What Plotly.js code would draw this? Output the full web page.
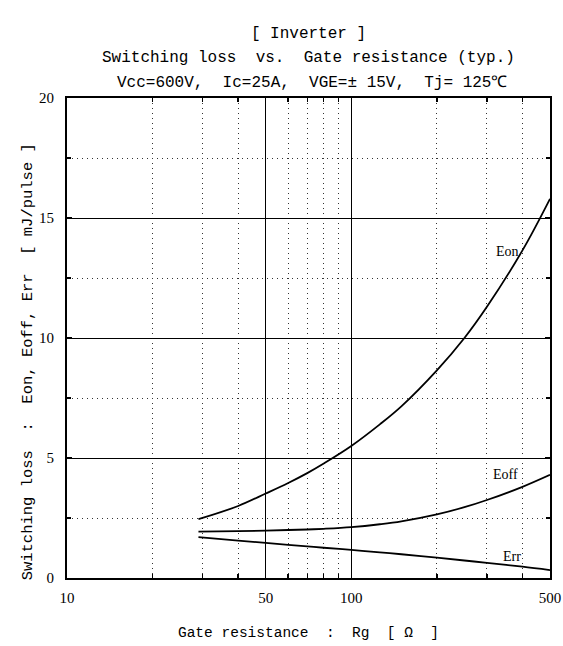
<!DOCTYPE html>
<html>
<head>
<meta charset="utf-8">
<script src="https://cdn.plot.ly/plotly-3.0.1.min.js"></script>
<style>html,body{margin:0;padding:0;background:#fff;}#chart{width:563px;height:646px;}</style>
</head>
<body>
<div id="chart"></div>
<script>
// Gate resistance Rg [ohm]
const rg   = [29, 40, 50, 60, 70, 80, 100, 126, 150, 200, 250, 300, 400, 500];
// Switching losses [mJ/pulse]
const eon  = [2.45, 3.0, 3.52, 3.96, 4.37, 4.77, 5.5, 6.4, 7.15, 8.65, 10.0, 11.3, 13.65, 15.8];
const eoff = [1.93, 1.95, 1.97, 2.0, 2.02, 2.05, 2.12, 2.24, 2.36, 2.65, 2.95, 3.25, 3.8, 4.3];
const err  = [1.7, 1.56, 1.46, 1.38, 1.32, 1.26, 1.17, 1.07, 0.99, 0.85, 0.73, 0.63, 0.47, 0.33];

const seriesNames = ['Eon', 'Eoff', 'Err'];
const labelRg = [354, 348, 369];
const labelE  = [13.6, 4.3, 0.88];

const xTickVals = [10, 50, 100, 500];
const xTickText = ['10', '50', '100', '500'];
const xMinorVals = [20, 30, 40, 60, 70, 80, 90, 200, 300, 400];
const yTickVals = [0, 5, 10, 15, 20];
const yMinorVals = [2.5, 7.5, 12.5, 17.5];

const titleLines = [
  '[ Inverter ]',
  'Switching loss  vs.  Gate resistance (typ.)',
  'Vcc=600V,  Ic=25A,  VGE=± 15V,  Tj= 125℃'
];
const xTitle = 'Gate resistance  :  Rg  [ Ω  ]';
const yTitle = 'Switching loss  :  Eon, Eoff, Err  [ mJ/pulse ]';

const lineStyle = {color: '#000', width: 1.8, shape: 'spline', smoothing: 1};
const traces = [eon, eoff, err].map((ys, i) => ({
  x: rg, y: ys, type: 'scatter', mode: 'lines', name: seriesNames[i],
  line: lineStyle, hoverinfo: 'skip'
}));

const mono = 'Liberation Mono, DejaVu Sans Mono, monospace';
const serif = 'Liberation Serif, DejaVu Serif, serif';

const annotations = seriesNames.map((n, i) => ({
  x: Math.log10(labelRg[i]), y: labelE[i], xref: 'x', yref: 'y', text: n,
  showarrow: false, font: {family: serif, size: 14, color: '#000'},
  xanchor: 'center', yanchor: 'middle'
}));
annotations.push({
  x: 0.5, y: 1.083, xref: 'paper', yref: 'paper', text: titleLines[1],
  showarrow: false, font: {family: mono, size: 16, color: '#000'},
  xanchor: 'center', yanchor: 'middle'
});
annotations.push({
  x: 0.508, y: 1.031, xref: 'paper', yref: 'paper', text: titleLines[2],
  showarrow: false, font: {family: mono, size: 16, color: '#000'},
  xanchor: 'center', yanchor: 'middle'
});
annotations.push({
  x: -0.08, y: 0.45, xref: 'paper', yref: 'paper', text: yTitle, textangle: -90,
  showarrow: false, font: {family: mono, size: 15.5, color: '#000'},
  xanchor: 'center', yanchor: 'middle'
});

const gridDots = '1px,4px';

const layout = {
  width: 563, height: 646,
  margin: {l: 67, r: 13, t: 98, b: 68, pad: 0},
  paper_bgcolor: '#fff', plot_bgcolor: '#fff',
  showlegend: false,
  title: {
    text: titleLines[0], font: {family: mono, size: 16, color: '#000'},
    x: 0.548, xanchor: 'center', y: 1 - 32 / 646, yanchor: 'middle', yref: 'container'
  },
  xaxis: {
    type: 'log', range: [1, Math.log10(500)],
    tickmode: 'array', tickvals: xTickVals, ticktext: xTickText,
    ticks: 'inside', ticklen: 5, tickwidth: 1.5, tickcolor: '#000',
    mirror: 'allticks', showline: true, linewidth: 2, linecolor: '#000',
    showgrid: true, gridcolor: '#000', gridwidth: 1, zeroline: false,
    ticklabelstandoff: 5,
    tickfont: {family: serif, size: 15, color: '#000'},
    minor: {tickmode: 'array', tickvals: xMinorVals, ticks: 'inside', ticklen: 4, tickcolor: '#000',
            showgrid: true, gridcolor: '#333', griddash: gridDots, gridwidth: 1},
    title: {text: xTitle, font: {family: mono, size: 14.5, color: '#000'}, standoff: 22},
    automargin: false, fixedrange: true
  },
  yaxis: {
    range: [0, 20],
    tickmode: 'array', tickvals: yTickVals,
    ticks: 'inside', ticklen: 5, tickwidth: 1.5, tickcolor: '#000',
    mirror: 'allticks', showline: true, linewidth: 2, linecolor: '#000',
    showgrid: true, gridcolor: '#000', gridwidth: 1, zeroline: false,
    ticklabelstandoff: 8,
    tickfont: {family: serif, size: 15, color: '#000'},
    minor: {tickmode: 'array', tickvals: yMinorVals, ticks: 'inside', ticklen: 4, tickcolor: '#000',
            showgrid: true, gridcolor: '#333', griddash: gridDots, gridwidth: 1},
    automargin: false, fixedrange: true
  },
  annotations: annotations
};

Plotly.newPlot('chart', traces, layout, {staticPlot: true, displayModeBar: false});
</script>
</body>
</html>
